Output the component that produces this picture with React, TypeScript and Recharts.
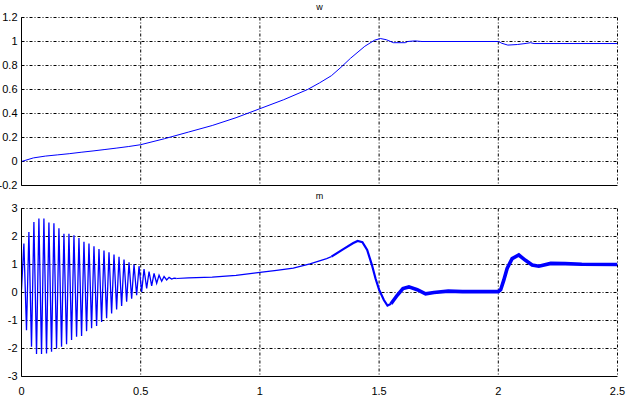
import { LineChart, Line, XAxis, YAxis, CartesianGrid } from 'recharts';

const xTicks = [0, 0.5, 1, 1.5, 2, 2.5];
const wTicks = [-0.2, 0, 0.2, 0.4, 0.6, 0.8, 1, 1.2];
const mTicks = [-3, -2, -1, 0, 1, 2, 3];

// w(t)
const wTime = [0, 0.05, 0.1, 0.15, 0.2, 0.25, 0.3, 0.35, 0.4, 0.45, 0.5, 0.6, 0.7, 0.8, 0.9, 1.0, 1.1, 1.2, 1.25, 1.3, 1.34, 1.38, 1.44, 1.48, 1.505, 1.53, 1.56, 1.61, 1.62, 1.65, 1.68, 2.0, 2.015, 2.04, 2.08, 2.12, 2.135, 2.15, 2.5];
const wValue = [0, 0.03, 0.045, 0.055, 0.065, 0.077, 0.088, 0.1, 0.112, 0.125, 0.14, 0.19, 0.245, 0.3, 0.365, 0.44, 0.515, 0.6, 0.655, 0.715, 0.785, 0.86, 0.96, 1.01, 1.025, 1.015, 0.99, 0.99, 1.0, 1.005, 1.0, 1.0, 0.985, 0.97, 0.975, 0.985, 0.99, 0.983, 0.983];

// m(t): start-up oscillation (peaks and troughs)
const mOscTime = [
  0, 0.010, 0.021, 0.031, 0.042, 0.052, 0.063, 0.073, 0.084, 0.094, 0.105, 0.115, 0.126, 0.136, 0.147, 0.157,
  0.168, 0.178, 0.189, 0.199, 0.210, 0.220, 0.231, 0.241, 0.252, 0.262, 0.273, 0.283, 0.294, 0.304, 0.315,
  0.325, 0.336, 0.346, 0.357, 0.367, 0.378, 0.388, 0.399, 0.409, 0.420, 0.430, 0.441, 0.451, 0.462, 0.472,
  0.483, 0.493, 0.504, 0.514, 0.525, 0.535, 0.546, 0.556, 0.567, 0.577, 0.588, 0.598, 0.609, 0.619, 0.630,
  0.640, 0.65,
];
const mOscValue = [
  0.1, 1.75, -1.35, 2.16, -1.94, 2.52, -2.2, 2.64, -2.2, 2.64, -2.18, 2.5, -2.12, 2.47, -2.0, 2.29,
  -1.94, 2.1, -1.85, 2.1, -1.7, 2.04, -1.58, 1.95, -1.55, 1.81, -1.38, 1.75, -1.28, 1.65, -1.2,
  1.55, -1.05, 1.5, -0.92, 1.44, -0.75, 1.36, -0.61, 1.28, -0.48, 1.18, -0.33, 1.08, -0.22, 1.0,
  -0.1, 0.94, 0.02, 0.84, 0.15, 0.75, 0.24, 0.68, 0.33, 0.62, 0.4, 0.57, 0.45, 0.54, 0.48,
  0.51, 0.5,
];

// m(t): slow rise
const mRiseTime = [0.65, 0.7, 0.8, 0.9, 1.0, 1.07, 1.14, 1.21, 1.28, 1.3];
const mRiseValue = [0.5, 0.52, 0.55, 0.61, 0.72, 0.79, 0.87, 1.02, 1.21, 1.28];

// m(t): peak and drop (slightly noisy)
const mDropTime = [1.3, 1.35, 1.39, 1.41, 1.43, 1.45, 1.47, 1.485, 1.5, 1.52, 1.535, 1.55];
const mDropValue = [1.28, 1.55, 1.76, 1.84, 1.8, 1.52, 0.98, 0.5, 0.1, -0.27, -0.47, -0.4];

// m(t): noisy settling
const mNoisyTime = [1.55, 1.576, 1.6, 1.625, 1.66, 1.695, 1.73, 1.79, 1.85, 1.92, 2.0, 2.01, 2.023, 2.037, 2.058, 2.086, 2.114, 2.142, 2.17, 2.22, 2.28, 2.35, 2.5];
const mNoisyValue = [-0.4, -0.1, 0.14, 0.2, 0.1, -0.05, 0.0, 0.05, 0.03, 0.03, 0.03, 0.1, 0.44, 0.86, 1.21, 1.34, 1.15, 0.98, 0.94, 1.04, 1.03, 1.01, 1.0];

const toPoints = (ts: number[], vs: number[]) => ts.map((t, i) => ({ t, v: vs[i] }));

const wData = toPoints(wTime, wValue);
const mOsc = toPoints(mOscTime, mOscValue);
const mRise = toPoints(mRiseTime, mRiseValue);
const mDrop = toPoints(mDropTime, mDropValue);
const mNoisy = toPoints(mNoisyTime, mNoisyValue);

const BLUE = '#0000ff';
const tickStyle = { fontSize: 11, fill: '#000' };
const blank = () => '';

function Title({ text, top }: { text: string; top: number }) {
  return (
    <div
      style={{
        position: 'absolute',
        left: 0,
        top,
        width: 639,
        textAlign: 'center',
        fontSize: 9,
        lineHeight: '9px',
        color: '#000',
      }}
    >
      {text}
    </div>
  );
}

// the box around a subplot: mirror axes on top and right, real axes on bottom and left
function FrameAxes({ yDomain }: { yDomain: number[] }) {
  return (
    <>
      <XAxis xAxisId="top" orientation="top" type="number" domain={[0, 2.5]} height={0} tick={false} tickLine={false} axisLine={{ stroke: '#000' }} />
      <YAxis yAxisId="right" orientation="right" type="number" domain={yDomain} width={0} tick={false} tickLine={false} axisLine={{ stroke: '#000' }} />
    </>
  );
}

export default function App() {
  return (
    <div
      style={{
        position: 'absolute',
        left: 0,
        top: 0,
        width: 629,
        height: 397,
        background: '#fff',
        fontFamily: '"Liberation Sans", Arial, sans-serif',
        overflow: 'hidden',
      }}
    >
      <Title text="w" top={3} />
      <div style={{ position: 'absolute', left: 0, top: 0 }}>
        <LineChart width={629} height={190} margin={{ top: 17.5, right: 11.5, bottom: 0, left: 0 }}>
          <CartesianGrid stroke="#000" strokeDasharray="3 2 1 2" />
          <XAxis
            dataKey="t"
            type="number"
            domain={[0, 2.5]}
            ticks={xTicks}
            interval={0}
            height={4.5}
            tickFormatter={blank}
            tickSize={0}
            tickLine={false}
            axisLine={{ stroke: '#000' }}
            allowDataOverflow
          />
          <YAxis
            type="number"
            domain={[-0.2, 1.2]}
            ticks={wTicks}
            interval={0}
            width={21.5}
            tick={tickStyle}
            tickSize={0}
            tickMargin={4}
            tickLine={false}
            axisLine={{ stroke: '#000' }}
            allowDataOverflow
          />
          {FrameAxes({ yDomain: [-0.2, 1.2] })}
          <Line data={wData} dataKey="v" type="linear" stroke={BLUE} strokeWidth={1} dot={false} isAnimationActive={false} />
        </LineChart>
      </div>

      <Title text="m" top={192} />
      <div style={{ position: 'absolute', left: 0, top: 190 }}>
        <LineChart width={629} height={207} margin={{ top: 18.5, right: 11.5, bottom: 0, left: 0 }}>
          <CartesianGrid stroke="#000" strokeDasharray="3 2 1 2" />
          <XAxis
            dataKey="t"
            type="number"
            domain={[0, 2.5]}
            ticks={xTicks}
            interval={0}
            height={20.5}
            tick={tickStyle}
            tickSize={0}
            tickMargin={11}
            tickLine={false}
            axisLine={{ stroke: '#000' }}
            allowDataOverflow
          />
          <YAxis
            type="number"
            domain={[-3, 3]}
            ticks={mTicks}
            interval={0}
            width={21.5}
            tick={tickStyle}
            tickSize={0}
            tickMargin={4}
            tickLine={false}
            axisLine={{ stroke: '#000' }}
            allowDataOverflow
          />
          {FrameAxes({ yDomain: [-3, 3] })}
          <Line data={mOsc} dataKey="v" type="linear" stroke={BLUE} strokeWidth={1.3} dot={false} isAnimationActive={false} />
          <Line data={mRise} dataKey="v" type="linear" stroke={BLUE} strokeWidth={1.2} dot={false} isAnimationActive={false} />
          <Line data={mDrop} dataKey="v" type="linear" stroke={BLUE} strokeWidth={2.2} dot={false} isAnimationActive={false} />
          <Line data={mNoisy} dataKey="v" type="linear" stroke={BLUE} strokeWidth={3.6} dot={false} isAnimationActive={false} />
        </LineChart>
      </div>
    </div>
  );
}
